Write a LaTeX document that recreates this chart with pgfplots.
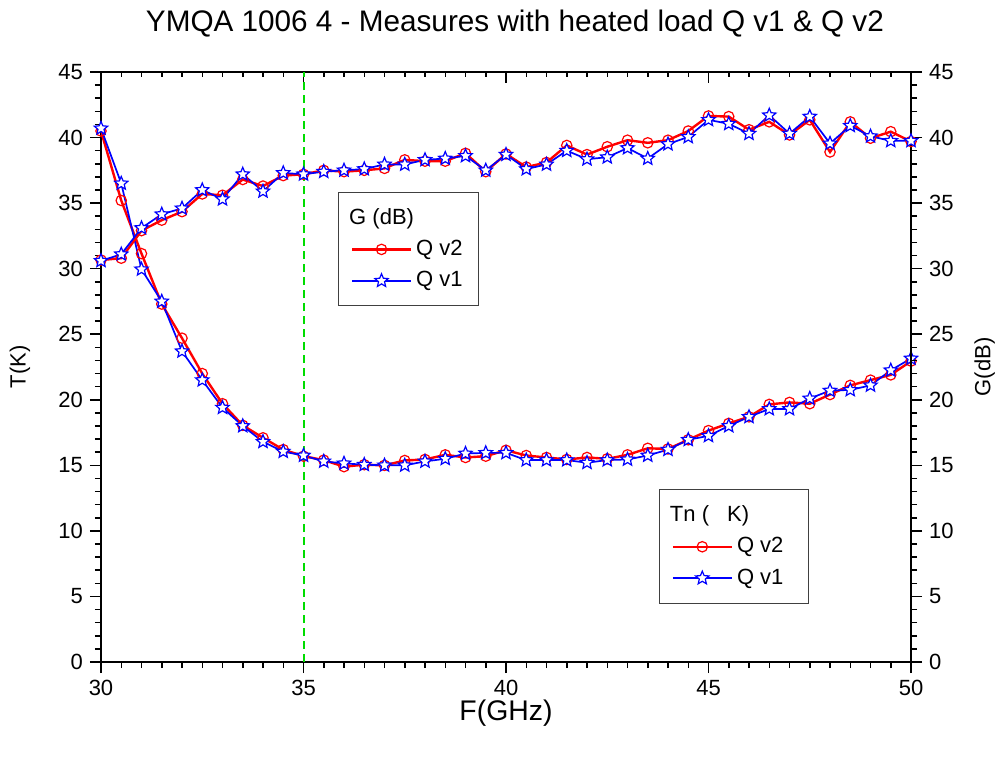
\documentclass[border=0pt]{standalone}
\usepackage{fontspec}
\setmainfont{Liberation Sans}
\usepackage{pgfplots}
\usepackage{pgfplotstable}
\pgfplotsset{compat=1.18}
\usetikzlibrary{plotmarks}
\definecolor{myred}{RGB}{255,0,0}
\definecolor{myblue}{RGB}{0,0,255}
\definecolor{vgreen}{RGB}{0,220,0}

\pgfdeclareplotmark{ostar}{%
  \pgfpathmoveto{\pgfpointpolar{90}{\pgfplotmarksize}}%
  \pgfpathlineto{\pgfpointpolar{126}{0.45\pgfplotmarksize}}%
  \pgfpathlineto{\pgfpointpolar{162}{\pgfplotmarksize}}%
  \pgfpathlineto{\pgfpointpolar{198}{0.45\pgfplotmarksize}}%
  \pgfpathlineto{\pgfpointpolar{234}{\pgfplotmarksize}}%
  \pgfpathlineto{\pgfpointpolar{270}{0.45\pgfplotmarksize}}%
  \pgfpathlineto{\pgfpointpolar{306}{\pgfplotmarksize}}%
  \pgfpathlineto{\pgfpointpolar{342}{0.45\pgfplotmarksize}}%
  \pgfpathlineto{\pgfpointpolar{18}{\pgfplotmarksize}}%
  \pgfpathlineto{\pgfpointpolar{54}{0.45\pgfplotmarksize}}%
  \pgfpathclose
  \pgfusepathqfillstroke
}

\pgfplotstableread{
x Tv2 Tv1 Gv2 Gv1
30 40.5 40.7 30.66 30.6
30.5 35.2 36.5 30.8 31.1
31 31.15 29.95 32.9 33.1
31.5 27.3 27.5 33.7 34.15
32 24.7 23.7 34.35 34.6
32.5 22.0 21.5 35.7 36.0
33 19.7 19.4 35.6 35.3
33.5 18.05 18.0 36.8 37.2
34 17.1 16.8 36.3 35.9
34.5 16.2 16.05 37.1 37.3
35 15.7 15.75 37.2 37.2
35.5 15.4 15.3 37.5 37.4
36 14.9 15.15 37.4 37.5
36.5 15.05 15.05 37.5 37.6
37 15.0 15.0 37.65 37.95
37.5 15.37 15.0 38.3 37.95
38 15.45 15.3 38.2 38.3
38.5 15.8 15.5 38.2 38.4
39 15.6 15.9 38.8 38.6
39.5 15.7 15.95 37.4 37.5
40 16.15 15.95 38.75 38.7
40.5 15.75 15.4 37.75 37.6
41 15.6 15.4 38.1 37.95
41.5 15.45 15.4 39.4 39.0
42 15.6 15.2 38.7 38.35
42.5 15.5 15.4 39.3 38.5
43 15.8 15.45 39.8 39.2
43.5 16.3 15.75 39.6 38.4
44 16.25 16.2 39.8 39.5
44.5 16.95 16.95 40.5 40.05
45 17.65 17.25 41.65 41.35
45.5 18.2 18.0 41.6 41.05
46 18.7 18.7 40.6 40.3
46.5 19.65 19.3 41.2 41.7
47 19.8 19.3 40.2 40.3
47.5 19.7 20.1 41.35 41.6
48 20.4 20.7 38.9 39.55
48.5 21.1 20.75 41.2 40.9
49 21.5 21.1 39.95 40.1
49.5 21.9 22.25 40.45 39.75
50 22.95 23.15 39.7 39.75
}\datatable

\pgfplotsset{
  base/.style={
    width=405pt, height=295pt, scale only axis,
    at={(50.5pt,47.5pt)}, anchor=south west,
    xmin=30, xmax=50, ymin=0, ymax=45,
    xtick={30,35,...,50}, ytick={0,5,...,45},
    minor x tick num=9, minor y tick num=4,
    axis line style={line width=0.75pt},
    every tick/.style={black, line width=0.75pt},
    major tick length=5.5pt, minor tick length=3pt,
    tick label style={font=\fontsize{11}{13}\selectfont},
    ylabel style={font=\fontsize{11}{13}\selectfont},
    xlabel style={font=\fontsize{14.2}{17}\selectfont},
    /pgf/number format/assume math mode=true,
  },
  redline/.style={color=myred, line width=1.2pt, mark=o, mark size=2.6pt,
    mark options={solid, fill=white, line width=0.6pt}},
  blueline/.style={color=myblue, line width=0.85pt, mark=ostar, mark size=3.5pt,
    mark options={solid, fill=white, line width=0.6pt}},
  leg/.style={
    legend cell align=left,
    legend style={draw=black!75, line width=0.5pt,
      font=\fontsize{11}{13}\selectfont,
      row sep=2.5pt, inner xsep=6pt, inner ysep=6pt},
    legend image code/.code={%
      \draw[mark repeat=2,mark phase=2] plot coordinates {(0pt,0pt) (14.75pt,0pt) (29.5pt,0pt)};},
  },
}

\begin{document}
\begin{tikzpicture}
\useasboundingbox (0,0) rectangle (502pt,378.5pt);

% top axis ticks pointing inward
\begin{axis}[base, axis x line*=top, axis y line=none, tick align=inside,
  xticklabels={}, major tick length=5.5pt, minor tick length=2.5pt]
\end{axis}

% left axis: Tn
\begin{axis}[base, leg, axis x line*=bottom, axis y line*=left, tick align=outside,
  xlabel={F(GHz)}, ylabel={T(K)},
  xlabel style={at={(axis description cs:0.5,-0.087)}, anchor=center},
  ylabel style={at={(axis description cs:-0.1,0.5)}, anchor=center, rotate=0},
  title={YMQA 1006 4 - Measures with heated load Q v1 \& Q v2},
  title style={at={(axis description cs:0.511,1.061)}, anchor=center, yshift=0pt,
    font=\fontsize{14.85}{17}\selectfont},
  legend style={at={(axis description cs:0.689,0.293)}, anchor=north west}]
\addplot[draw=vgreen, line width=1pt, dash pattern=on 4pt off 2.5pt, mark=none, forget plot]
  coordinates {(35,0) (35,45)};
\addlegendimage{empty legend}
\addlegendentry{\hspace*{-33.5pt}Tn (\hspace{9pt}K)}
\addplot[redline] table[x=x, y=Tv2] {\datatable};
\addlegendentry{Q v2\hspace*{4.5pt}\mbox{}}
\addplot[blueline] table[x=x, y=Tv1] {\datatable};
\addlegendentry{Q v1\hspace*{4.5pt}\mbox{}}
\end{axis}

% right axis: G
\begin{axis}[base, leg, axis x line=none, axis y line*=right, tick align=outside,
  ylabel={G(dB)},
  ylabel style={at={(axis description cs:1.091,0.5)}, anchor=center, rotate=0},
  legend style={at={(axis description cs:0.293,0.797)}, anchor=north west}]
\addlegendimage{empty legend}
\addlegendentry{\hspace*{-33.5pt}G (dB)}
\addplot[redline] table[x=x, y=Gv2] {\datatable};
\addlegendentry{Q v2}
\addplot[blueline] table[x=x, y=Gv1] {\datatable};
\addlegendentry{Q v1}
\end{axis}
\end{tikzpicture}
\end{document}
